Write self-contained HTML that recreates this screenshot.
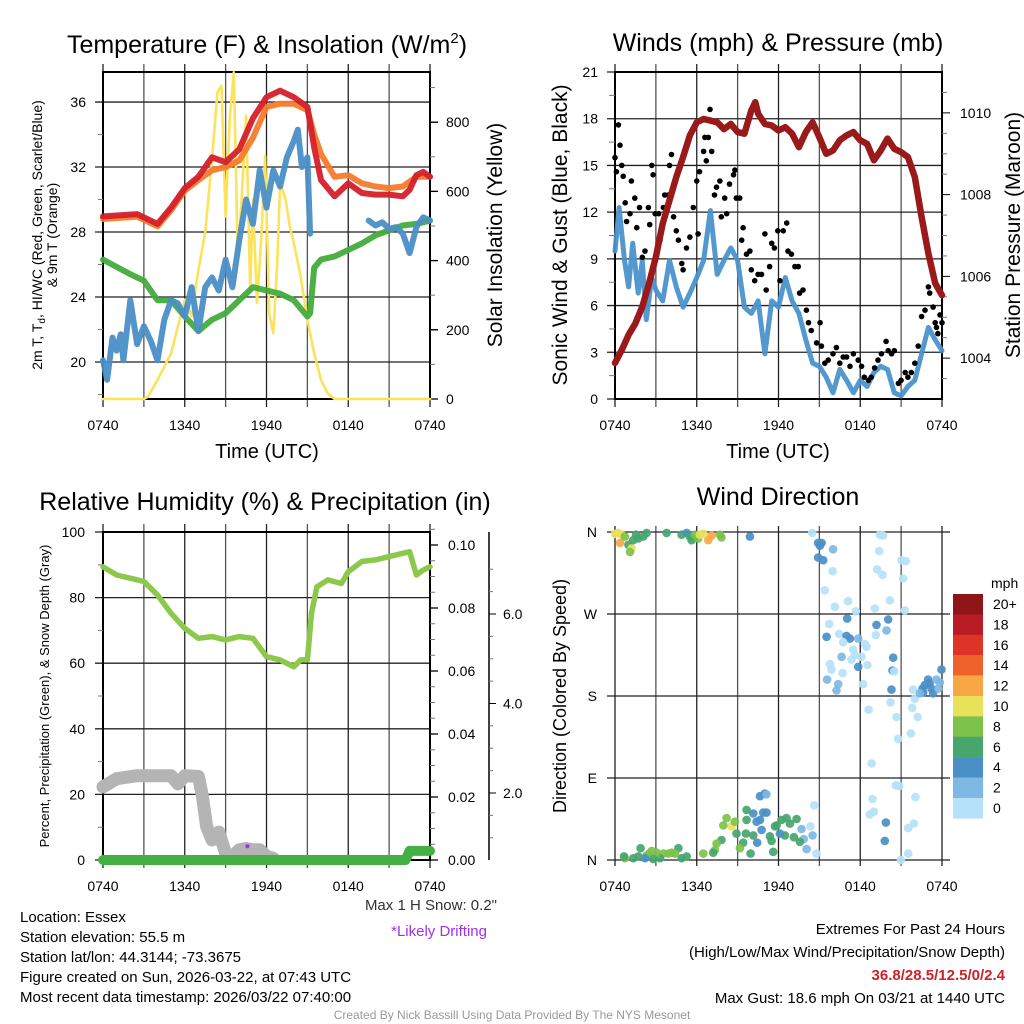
<!DOCTYPE html>
<html><head><meta charset="utf-8"><style>
html,body{margin:0;padding:0;background:#fff}
svg{display:block;font-family:"Liberation Sans",sans-serif}
</style></head><body>
<svg id="s" width="1024" height="1024" viewBox="0 0 1024 1024">
<g id="g1"></g>
<g id="g2"></g>
<g id="g3"></g>
<g id="g4"></g>
<g font-size="25" text-anchor="middle" fill="#000">
<text x="267" y="53">Temperature (F) &amp; Insolation (W/m<tspan font-size="15" dy="-10">2</tspan><tspan dy="10">)</tspan></text>
<text x="778" y="51">Winds (mph) &amp; Pressure (mb)</text>
<text x="265" y="510">Relative Humidity (%) &amp; Precipitation (in)</text>
<text x="778" y="505">Wind Direction</text>
</g>
<g fill="#000" text-anchor="middle">
<text x="267" y="458" font-size="20">Time (UTC)</text>
<text x="778" y="458" font-size="20">Time (UTC)</text>
<text transform="translate(42,235) rotate(-90)" font-size="14">2m T, T<tspan font-size="10" dy="3">d</tspan><tspan dy="-3">, HI/WC (Red, Green, Scarlet/Blue)</tspan></text>
<text transform="translate(57,235) rotate(-90)" font-size="14">&amp; 9m T (Orange)</text>
<text transform="translate(502,235) rotate(-90)" font-size="21">Solar Insolation (Yellow)</text>
<text transform="translate(567,235) rotate(-90)" font-size="21">Sonic Wind &amp; Gust (Blue, Black)</text>
<text transform="translate(1020,235) rotate(-90)" font-size="21">Station Pressure (Maroon)</text>
<text transform="translate(49,696) rotate(-90)" font-size="13">Percent, Precipitation (Green), &amp; Snow Depth (Gray)</text>
<text transform="translate(566,696) rotate(-90)" font-size="18">Direction (Colored By Speed)</text>
</g>
<g font-size="15" fill="#000">
<text x="497" y="910" text-anchor="end" fill="#333">Max 1 H Snow: 0.2"</text>
<text x="487" y="936" text-anchor="end" fill="#a030e8">*Likely Drifting</text>
<text x="20" y="922">Location: Essex</text>
<text x="20" y="942">Station elevation: 55.5 m</text>
<text x="20" y="962">Station lat/lon: 44.3144; -73.3675</text>
<text x="20" y="982">Figure created on Sun, 2026-03-22, at 07:43 UTC</text>
<text x="20" y="1002">Most recent data timestamp: 2026/03/22 07:40:00</text>
<text x="1005" y="934" text-anchor="end">Extremes For Past 24 Hours</text>
<text x="1005" y="957" text-anchor="end">(High/Low/Max Wind/Precipitation/Snow Depth)</text>
<text x="1005" y="980" text-anchor="end" fill="#cc2229" font-weight="bold">36.8/28.5/12.5/0/2.4</text>
<text x="1005" y="1003" text-anchor="end">Max Gust: 18.6 mph On 03/21 at 1440 UTC</text>
<text x="512" y="1019" text-anchor="middle" font-size="12" fill="#999">Created By Nick Bassill Using Data Provided By The NYS Mesonet</text>
</g>
</svg>
<script>
// ---------- DATA ----------
const xTickLabels = ["0740","1340","1940","0140","0740"];
const tempTickLabels = [20,24,28,32,36];
const insTickLabels = [0,200,400,600,800];
const windTickLabels = [0,3,6,9,12,15,18,21];
const presTickLabels = [1004,1006,1008,1010];
const rhTickLabels = [0,20,40,60,80,100];
const precipTickLabels = ["0.00","0.02","0.04","0.06","0.08","0.10"];
const snowTickLabels = ["2.0","4.0","6.0"];
const dirTickLabels = ["N","E","S","W","N"];
const speedLegendLabels = ["20+","18","16","14","12","10","8","6","4","2","0"];

const tempT = [0,2.5,4,5,6,7,8,9,10,11,12,13,14,15,15.5,16,17,18,19,20,21,22,22.5,23,23.5,24];
const tempV = [28.96,29.1,28.5,29.5,30.7,31.4,32.6,32.3,33.1,35,36.3,36.7,36.3,35.7,33.2,31.2,30.2,31,30.4,30.3,30.3,30.2,30.6,31.5,31.7,31.4];
const temp9T = [0,2.5,4,5,6,7,8,9,10,11,12,13,14,15,15.5,16,17,18,19,20,21,22,23,24];
const temp9V = [28.8,28.95,28.35,29.35,30.55,31.2,31.8,32,32.4,33.8,35.7,35.9,35.9,35.5,34,32.8,31.4,31.5,31,30.8,30.7,30.8,31.4,31.4];
const greenT = [0,2,3,4,5,6,7,8,9,10,11,12,13,14,15,15.2,15.5,16,17,18,19,20,21,22,23,24];
const greenV = [26.3,25.4,25,23.8,23.8,22.8,21.9,22.6,23,23.8,24.6,24.4,24.2,23.8,22.8,23,25.8,26.3,26.5,26.9,27.3,27.8,28.1,28.4,28.5,28.7];
const blueT = [0,0.3,0.7,1,1.3,1.5,2,2.5,3,3.5,4,4.5,5,5.5,6,6.5,7,7.5,8,8.5,9,9.5,10,10.5,11,11.5,12,12.5,13,13.5,14,14.3,14.6,15,15.2,15.3,19.5,20,20.5,21,21.5,22,22.5,23,23.5,24];
const blueV = [20.1,18.9,21.5,20.7,21.7,20.1,23.8,21.1,22.2,21.3,20.1,22.6,23.8,23.6,22.8,24.6,21.9,24.6,25.2,24.4,26.3,24.6,27.5,30,28.5,31.8,29.5,31.8,30.8,32.6,33.6,34.3,32,32.6,27.9,null,28.7,28.4,28.6,28.2,28.3,27.9,26.7,28.3,28.9,28.7];
const insT = [0,3,3.3,4,5,5.5,6,6.5,7,7.5,8,8.4,8.7,9,9.3,9.6,9.9,10.2,10.5,10.8,11,11.3,11.6,11.9,12.2,12.5,12.8,13,13.4,13.7,14,14.5,15,15.5,16,16.5,17,24];
const insV = [0,0,7,55,132,210,287,239,374,480,693,886,905,528,808,944,400,596,818,316,577,277,451,702,248,190,403,625,577,500,451,355,229,132,55,16,0,0];

const presT = [0,0.5,1,1.5,2,2.5,3,3.5,4,4.5,5,5.5,6,6.5,7,7.5,8,8.5,9,9.5,10,10.3,10.5,11,11.5,12,12.5,13,13.5,14,14.5,15,15.5,16,16.5,17,17.5,18,18.5,19,19.5,20,20.5,21,21.5,22,22.5,23,23.5,24];
const presV = [1003.88,1004.2,1004.57,1004.85,1005.26,1005.83,1006.48,1007.29,1007.86,1008.43,1008.92,1009.45,1009.77,1009.85,1009.81,1009.77,1009.6,1009.73,1009.53,1009.49,1010.06,1010.26,1009.98,1009.73,1009.69,1009.57,1009.65,1009.49,1009.16,1009.53,1009.77,1009.4,1009.0,1009.08,1009.33,1009.45,1009.53,1009.33,1009.24,1008.84,1009.08,1009.37,1009.12,1009.04,1008.92,1008.43,1007.45,1006.56,1005.83,1005.54];
const windT = [0,0.3,0.7,1,1.3,1.7,2,2.3,2.7,3,3.5,4,4.5,5,5.5,6,6.5,7,7.5,8,8.5,9,9.5,10,10.5,11,11.5,12,12.5,13,13.5,14,14.5,15,15.5,16,16.5,17,17.5,18,18.5,19,19.5,20,20.5,21,21.5,22,22.5,23,23.5,24];
const windV = [9.5,12.3,8.9,7.2,10,6.8,8.9,5.1,7.8,7,6.3,8.9,7.2,5.9,6.8,7.8,8.9,12.1,8,8.9,9.7,8.9,5.9,5.5,6.3,2.9,6.3,5.9,7.8,6.3,5.5,3.8,2.3,2.1,1.4,0.4,1.9,1.2,0.4,1.2,0.8,1.7,2.1,1.9,0.4,0.2,0.8,1.2,2.9,4.6,3.8,3.1];
const gustT = [0,0.1,0.25,0.37,0.5,0.6,0.75,0.85,1.1,1.2,1.45,1.6,1.8,2,2.2,2.45,2.55,2.7,2.8,2.95,3.2,3.3,3.55,3.65,3.8,3.9,4,4.15,4.3,4.5,4.65,4.9,5,5.25,5.5,5.75,6,6.1,6.2,6.5,6.6,6.7,6.85,6.97,7.1,7.3,7.45,7.7,7.8,8.05,8.2,8.4,8.7,8.8,8.9,9.15,9.3,9.4,9.65,9.9,10,10.25,10.5,10.75,11,11.1,11.35,11.5,11.7,11.95,12.1,12.35,12.6,12.7,12.95,13.2,13.45,13.55,13.8,14.05,14.2,14.4,14.8,15.05,15.15,15.4,15.65,16,16.25,16.5,16.75,17,17.25,17.5,17.85,18.1,18.3,18.6,18.8,19.05,19.3,19.55,19.9,20.05,20.3,20.5,20.8,21,21.3,21.5,21.75,22,22.25,22.5,22.75,23,23.1,23.35,23.5,23.6,23.7,23.85,24];
const gustV = [15.5,14.6,17.6,16.3,15,14.3,12.6,11.4,11.9,14,12.9,11,12.3,9.1,9.5,12.3,11.2,15,14.4,11.9,11.9,10.2,12.3,13.1,12.3,13.1,15,15.7,11.7,10.8,10.2,8.7,8.3,9.7,10.4,12.3,14,10.6,14.6,15.9,16.8,15.3,16.8,18.6,15.9,13.1,13.6,14,11.7,12.9,11.9,13.8,14.4,14.7,12.9,12.9,10.2,11,9.3,9.5,8.3,7.6,8,8,10.6,7,8.5,10,9.7,10.8,7.6,10.8,11.3,9.5,9.3,8.5,8.5,6.8,7,5.7,4.9,4.4,3.6,4.9,3.4,2.3,2.5,2.9,3.3,2.3,2.7,2.7,2.1,2.9,2.5,2.1,1.4,1.2,1.4,2,2.5,2.9,3.7,3.1,2.9,3.1,1,1.2,1.7,1.4,1.7,2.3,3.4,5.3,5.7,7.2,6.8,5.9,4.9,4.6,4.2,5.4,4.9];

const rhT = [0,1,2,3,4,5,6,7,8,9,10,11,12,13,14,14.5,15,15.3,15.7,16.5,17.5,18,19,20,21,22,22.5,23,23.5,24];
const rhV = [89.4,86.9,85.9,84.9,80.8,75.2,70.6,67.6,68.1,67.1,68.1,67.6,62,61,58.9,61,61,75.2,83.3,85.4,84.3,87.9,91,91.5,92.5,93.5,94,86.9,88.4,89.4];
const snowT = [0,1,2.5,5,5.5,6,7,7.3,7.6,8,8.5,9,9.5,10,10.5,11,11.5,12,12.5];
const snowV = [22.3,24.8,25.7,25.7,23.2,25.7,25.5,19.3,10.2,6.1,8.5,2.1,1.1,3.1,3.5,3.1,3.1,1.1,0.5];
const precipT = [0,22.2,22.5,24];
const precipV = [0,0,0.0029,0.0029];
const driftT = [10.6];
const driftV = [4.2];

const dirT = [0,0.24,0.49,0.37,0.73,0.98,1.22,1.1,1.34,1.54,1.71,2.08,2.32,3.79,4.89,5.26,5.5,5.62,5.87,6.11,6.23,6.48,6.85,7.09,7.7,7.82,9.9,
14.47,14.91,15.16,15.04,16.01,14.91,15.28,15.97,15.4,16.14,17.11,17.68,17.04,15.72,15.53,16.45,16.99,17.24,16.75,17.85,18.34,18.46,17.48,17.6,16.63,18.09,17.36,15.77,15.89,17.85,18.53,16.7,15.57,16.38,16.26,18.22,18.61,20.22,20.66,20.78,21.71,22.22,21.81,22,21.88,18.83,19.44,19.68,19.39,19.24,19.63,21.03,21.34,21.15,20.17,19.07,21.27,20.05,19.19,19.93,19.14,20.42,20.37,20.49,20.29,22.57,22.74,22.98,23.1,23.23,23.35,23.59,23.72,23.84,23.96,22.62,22.37,
20.61,20.86,22.05,18.9,18.7,19,19.88,19.8,21.52,21.93,21.52,20.98,14.62,14.35,14.5,14.79,14.06,13.86,13.57,13.69,13.13,13.33,12.84,12.47,12.1,11.74,11.61,11.49,11.37,11.86,12.22,12.59,11.12,10.88,10.64,10.76,10.39,10.15,10.44,10.15,9.66,9.66,9.61,9.41,9.17,8.92,8.56,8.8,8.19,7.95,7.82,7.46,7.33,7.21,6.48,9.95,10.64,11,11.12,5.26,4.89,4.65,4.4,4.16,3.91,3.55,3.3,3.06,2.69,2.52,2.32,2.2,1.88,1.71,0.73,0.66,1.34,2.81];
const dirV = [358,359,357,348,355,346,342,338,351,357,353,355,359,359,357,359,355,351,357,353,357,358,351,356,357,354,355,
359,348,348,345,341,332,329,317,296,278,284,273,265,259,245,248,246,243,239,243,237,234,231,225,223,223,220,215,209,212,214,205,198,193,186,193,165,173,157,133,139,157,167,177,187,106,357,356,339,319,313,329,328,309,285,276,274,264,258,252,247,222,208,207,187,188,192,198,194,188,183,198,188,195,209,184,183,
82,81,69,67,50,53,41,21,35,40,7,0,60,37,27,7,12,23,20,34,25,45,40,27,29,37,9,21,26,38,44,46,52,52,44,33,42,51,19,27,55,44,29,19,13,29,37,42,46,38,22,18,11,8,7,7,70,73,72,4,2,13,7,8,7,7,2,8,10,7,5,2,13,4,2,4,2,1];
const dirSpd = [11,11,11,13,9,7,11,9,7,7,7,7,7,7,7,5,7,7,9,9,11,11,13,13,9,9,5,
1,5,5,5,3,5,5,1,1,1,1,1,5,1,5,1,5,5,1,3,1,1,1,1,3,1,1,1,1,5,1,1,3,3,3,1,1,1,1,1,1,1,1,1,1,1,1,1,1,1,1,1,1,1,1,1,1,5,5,3,1,5,5,1,5,5,5,5,5,5,5,3,3,3,5,5,3,
1,1,1,1,1,1,5,5,1,1,1,1,1,1,3,1,3,3,7,3,7,7,7,7,5,7,7,7,7,7,7,7,5,5,5,5,5,5,5,7,7,7,7,7,9,7,11,9,9,9,7,9,9,7,9,7,5,5,3,7,7,7,9,9,9,9,7,9,9,9,9,5,7,7,9,7,7,7];

// ---------- RENDER ----------
const NS = "http://www.w3.org/2000/svg";
function mk(parent, tag, attrs) {
  const e = document.createElementNS(NS, tag);
  for (const k in attrs) e.setAttribute(k, attrs[k]);
  parent.appendChild(e);
  return e;
}
function linScale(d0, d1, r0, r1) { return v => r0 + (v - d0) * (r1 - r0) / (d1 - d0); }
function pathFrom(ts, vs, sx, sy) {
  let d = "", pen = false;
  for (let i = 0; i < ts.length; i++) {
    if (vs[i] === null) { pen = false; continue; }
    d += (pen ? "L" : "M") + sx(ts[i]).toFixed(1) + "," + sy(vs[i]).toFixed(1);
    pen = true;
  }
  return d;
}
const speedColors = ["#b5e2f8","#7db9e4","#4a8fc6","#47a56e","#7cc24b","#e8e15a","#f7a845","#f0622b","#dd3428","#ba1c25","#8f1518"];

function frame(g, x0, x1, y0, y1, yTicksL, sxTicks) {
  for (let h = 0; h <= 24; h += 3) {
    const x = sxTicks(h);
    const l = mk(g, "line", {x1: x, x2: x, y1: y0 - 8, y2: y1 + 8, stroke: h % 6 ? "#555" : "#222", "stroke-width": 1.3});
    
    
  }
  yTicksL.forEach(y => {
    const l = mk(g, "line", {x1: x0 - 8, x2: x1, y1: y, y2: y, stroke: "#222", "stroke-width": 1.3});
    
    
  });
  const r = mk(g, "rect", {x: x0, y: y0, width: x1 - x0, height: y1 - y0, fill: "none", stroke: "#000", "stroke-width": 2});
  
  
}
function xLabels(g, sx, y) {
  xTickLabels.forEach((lab, i) => {
    const t = mk(g, "text", {x: sx(i * 6), y: y, "font-size": 14, "text-anchor": "middle"});
    t.textContent = lab;
    
    
  });
}
function yLabels(g, labels, vals, sy, x, anchor, tickX1, tickX2) {
  labels.forEach((lab, i) => {
    const y = sy(vals[i]);
    const t = mk(g, "text", {x: x, y: y + 5, "font-size": 14, "text-anchor": anchor});
    t.textContent = lab;
    
    
    if (tickX1 !== undefined) {
      const l = mk(g, "line", {x1: tickX1, x2: tickX2, y1: y, y2: y, stroke: "#000", "stroke-width": 1.3});
      
      
    }
  });
}
function line(g, ts, vs, sx, sy, color, w, name, op) {
  const p = mk(g, "path", {d: pathFrom(ts, vs, sx, sy), fill: "none", stroke: color, "stroke-width": w, "stroke-linejoin": "round", "stroke-linecap": "round", opacity: op || 1});
  
  
}

// Panel 1
(function () {
  const g = document.getElementById("g1");
  const sx = linScale(0, 24, 103, 430);
  const sy = linScale(17.72, 37.85, 399, 72);
  const si = linScale(0, 945, 399, 72);
  frame(g, 103, 430, 72, 399, tempTickLabels.map(sy), sx);
  [18,22,26,30,34].forEach(v => { const l = mk(g,"line",{x1:98,x2:103,y1:sy(v),y2:sy(v),stroke:"#777"});   });
  for (let w = 100; w <= 900; w += 100) { const l = mk(g,"line",{x1:430,x2:w%200?435:438,y1:si(w),y2:si(w),stroke:w%200?"#777":"#000"});   }
  yLabels(g, tempTickLabels, tempTickLabels, sy, 86, "end");
  yLabels(g, insTickLabels, insTickLabels, si, 446, "start", 430, 438);
  xLabels(g, sx, 430);
  line(g, insT, insV, sx, si, "#fde25c", 2.6, "insolation-line");
  line(g, greenT, greenV, sx, sy, "#43ac3c", 6, "dewpoint-line", 0.95);
  line(g, blueT, blueV, sx, sy, "#4a8fc7", 6, "windchill-line", 0.95);
  line(g, temp9T, temp9V, sx, sy, "#f47b2b", 6, "temp-9m-line", 0.95);
  line(g, tempT, tempV, sx, sy, "#d4202a", 6, "temp-2m-line", 0.95);
})();

// Panel 2
(function () {
  const g = document.getElementById("g2");
  const sx = linScale(0, 24, 615, 942);
  const sy = linScale(0, 21, 399, 72);
  const sp = linScale(1003, 1011, 399, 72);
  frame(g, 615, 942, 72, 399, windTickLabels.map(sy), sx);
  for (let i = 0; i < 7; i++) { const v = 1.5 + i * 3; const l = mk(g,"line",{x1:609,x2:615,y1:sy(v),y2:sy(v),stroke:"#777"});   }
  for (let i = 1; i < 16; i++) { const p = 1003 + i * 0.5; const major = (i % 4 === 2); const l = mk(g,"line",{x1:942,x2:major?950:947,y1:sp(p),y2:sp(p),stroke:major?"#000":"#777"});   }
  yLabels(g, windTickLabels, windTickLabels, sy, 598, "end");
  yLabels(g, presTickLabels, presTickLabels, sp, 960, "start");
  xLabels(g, sx, 430);
  line(g, windT, windV, sx, sy, "#4a94cc", 5, "wind-speed-line", 0.95);
  gustT.forEach((t, i) => {
    const c = mk(g, "circle", {cx: sx(t).toFixed(1), cy: sy(gustV[i]).toFixed(1), r: 2.8, fill: "#000"});
    
    
  });
  line(g, presT, presV, sx, sp, "#9a1a1c", 6.5, "pressure-line");
})();

// Panel 3
(function () {
  const g = document.getElementById("g3");
  const sx = linScale(0, 24, 103, 430);
  const sy = linScale(0, 100, 860, 532);
  const spr = linScale(0, 0.1, 860, 545);
  const ssn = linScale(0, 2, 882.5, 793);
  frame(g, 103, 430, 532, 860, rhTickLabels.map(sy), sx);
  for (let i = 0; i < 5; i++) { const v = 10 + i * 20; const l = mk(g,"line",{x1:98,x2:103,y1:sy(v),y2:sy(v),stroke:"#777"});   }
  for (let i = 1; i <= 21; i++) { const p = i * 0.005; const major = i % 4 === 0; const l = mk(g,"line",{x1:430,x2:major?438:435,y1:spr(p),y2:spr(p),stroke:major?"#000":"#777"});   }
  yLabels(g, rhTickLabels, rhTickLabels, sy, 85, "end");
  yLabels(g, precipTickLabels, precipTickLabels.map(Number), spr, 448, "start", 430, 438);
  const ax = mk(g, "line", {x1: 489, x2: 489, y1: 532, y2: 860, stroke: "#000", "stroke-width": 1.5});
  
  
  for (let i = 2; i <= 14; i++) { const s = i * 0.5; const major = (i % 4 === 0); const l = mk(g,"line",{x1:489,x2:major?496:493,y1:ssn(s),y2:ssn(s),stroke:major?"#000":"#777"});   }
  yLabels(g, snowTickLabels, snowTickLabels.map(Number), ssn, 503, "start");
  xLabels(g, sx, 891);
  line(g, snowT, snowV, sx, sy, "#b4b4b4", 13, "snow-depth-line");
  line(g, precipT, precipV, sx, spr, "#44b044", 10, "precip-line");
  line(g, rhT, rhV, sx, sy, "#8cc84b", 5.5, "humidity-line");
  driftT.forEach((t, i) => {
    const c = mk(g, "circle", {cx: sx(t), cy: sy(driftV[i]), r: 2, fill: "#a030e8"});
    
    
  });
})();

// Panel 4
(function () {
  const g = document.getElementById("g4");
  const sx = linScale(0, 24, 615, 942);
  const sy = linScale(0, 360, 860, 532);
  for (let h = 0; h <= 24; h += 3) { const x = sx(h); const l = mk(g,"line",{x1:x,x2:x,y1:526,y2:866,stroke:h%6?"#555":"#222","stroke-width":1.3});   }
  [0,90,180,270,360].forEach((d, i) => {
    const y = sy(d);
    const l = mk(g, "line", {x1: 607, x2: 950, y1: y, y2: y, stroke: "#222", "stroke-width": 1.3});
    
    
    const t = mk(g, "text", {x: 597, y: y + 5, "font-size": 14, "text-anchor": "end"});
    t.textContent = dirTickLabels[i];
    
    
  });
  xLabels(g, sx, 891);
  dirT.forEach((t, i) => {
    const c = mk(g, "circle", {cx: sx(t).toFixed(1), cy: sy(dirV[i]).toFixed(1), r: 4.3, fill: speedColors[Math.min(10, Math.floor(dirSpd[i] / 2))], opacity: 0.92});
    
    
  });
  const lg = mk(g, "g", {});
  
  
  const tt = mk(lg, "text", {x: 991, y: 588, "font-size": 14});
  tt.textContent = "mph";
  
  
  speedLegendLabels.forEach((lab, i) => {
    const y = 594 + i * 20.4;
    const r = mk(lg, "rect", {x: 953, y: y, width: 30, height: 20.6, fill: speedColors[10 - i]});
    
    
    const t = mk(lg, "text", {x: 993, y: y + 15, "font-size": 14});
    t.textContent = lab;
    
    
  });
})();
</script>
</body></html>
